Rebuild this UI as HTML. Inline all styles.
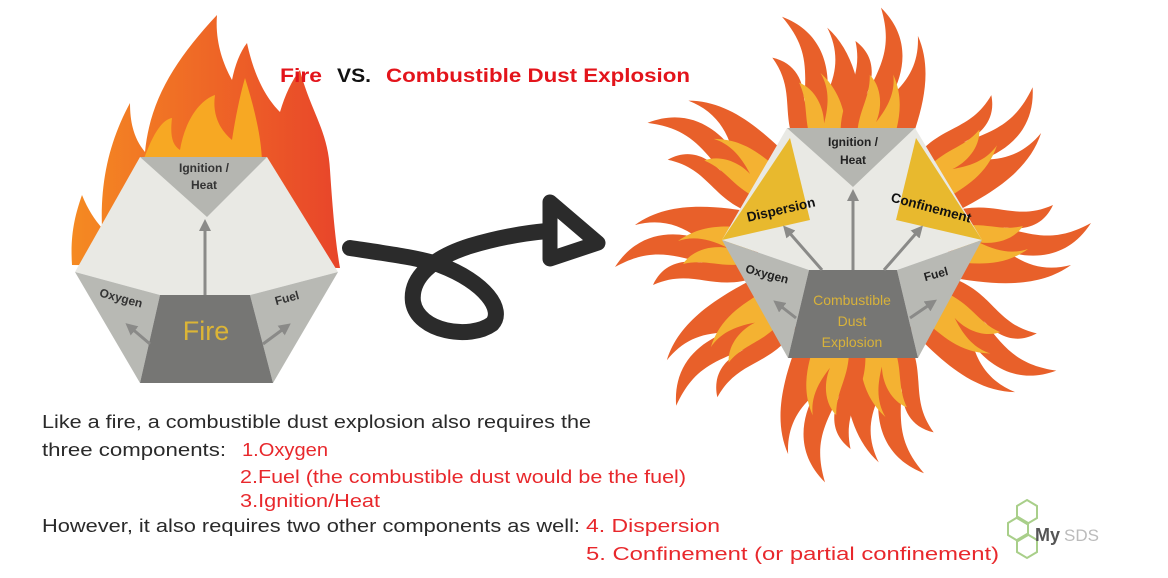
<!DOCTYPE html>
<html><head><meta charset="utf-8"><style>
body{margin:0;background:#fff;width:1168px;height:578px;overflow:hidden;font-family:"Liberation Sans",sans-serif}
</style></head><body>
<svg width="1168" height="578" style="position:absolute;left:0;top:0" font-family="Liberation Sans, sans-serif">
<defs>
<linearGradient id="fg" x1="0" y1="0" x2="1" y2="0"><stop offset="0" stop-color="#f58a22"/><stop offset="1" stop-color="#e8452a"/></linearGradient>
<g id="arm">
<path d="M-32,-95 C-48,-140 -22,-160 -40,-200 C-18,-190 -14,-170 -18,-150 C-8,-185 -4,-205 -22,-238 C14,-215 14,-180 7,-155 C22,-175 26,-195 20,-218 C44,-185 40,-140 32,-95 Z" fill="#e8602a"/>
<path d="M-17,-100 C-25,-130 -13,-145 -19,-170 C-4,-160 0,-140 -3,-125 C7,-145 9,-160 4,-175 C22,-150 19,-125 17,-100 Z" fill="#f4b232"/>
</g>
<marker id="ah" markerWidth="4" markerHeight="4" refX="2" refY="2" orient="auto" markerUnits="strokeWidth"><path d="M0,0 L4,2 L0,4 Z" fill="#8a8a88"/></marker>
</defs>
<!-- left flame -->
<path d="M72,265 C70,235 75,215 82,195 C88,210 95,220 102,228 C100,180 110,140 130,103 C130,125 135,140 145,152 C150,100 175,60 217,15 C215,40 222,62 232,80 C235,65 240,52 247,43 C255,80 268,100 280,112 C285,95 292,80 300,70 C310,110 328,130 330,170 C332,200 335,240 340,268 Z" fill="url(#fg)"/>
<path d="M140,170 C150,140 160,120 172,118 C170,135 172,145 180,150 C185,120 200,100 215,95 C212,115 220,130 232,140 C235,120 240,95 245,78 C255,110 262,140 262,165 Z" fill="#f7a823"/>
<!-- left diagram -->
<polygon points="140,157 267,157 338,272 250,295 160,295 75,272" fill="#e9e9e4"/>
<polygon points="140,157 267,157 207,217" fill="#b5b6b1"/>
<polygon points="75,272 160,295 140,383" fill="#b8b9b4"/>
<polygon points="338,272 250,295 273,383" fill="#b8b9b4"/>
<polygon points="160,295 250,295 273,383 140,383" fill="#767674"/>
<line x1="205" y1="295" x2="205" y2="225" stroke="#8a8a88" stroke-width="3" marker-end="url(#ah)"/>
<line x1="150" y1="344" x2="130" y2="327" stroke="#8a8a88" stroke-width="3" marker-end="url(#ah)"/>
<line x1="263" y1="344" x2="286" y2="327" stroke="#8a8a88" stroke-width="3" marker-end="url(#ah)"/>
<text x="204" y="172" font-size="12" font-weight="bold" text-anchor="middle" fill="#333">Ignition /</text>
<text x="204" y="189" font-size="12" font-weight="bold" text-anchor="middle" fill="#333">Heat</text>
<text x="120" y="302" font-size="12" font-weight="bold" text-anchor="middle" fill="#333" transform="rotate(15 120 302)">Oxygen</text>
<text x="288" y="302" font-size="12" font-weight="bold" text-anchor="middle" fill="#333" transform="rotate(-15 288 302)">Fuel</text>
<text x="206" y="340" font-size="27" text-anchor="middle" fill="#dcb536">Fire</text>
<!-- swirl arrow -->
<path d="M350,248 C390,254 420,258 440,265 C485,282 505,310 492,324 C470,340 418,332 413,302 C410,278 432,258 470,246 C500,237 525,233 547,231" fill="none" stroke="#2b2b2b" stroke-width="16" stroke-linecap="round"/>
<polygon points="550,202 550,259 598,243" fill="none" stroke="#2b2b2b" stroke-width="15" stroke-linejoin="round"/>
<!-- starburst -->
<g transform="translate(853,245)">
<use href="#arm" transform="rotate(-12)"/><use href="#arm" transform="rotate(12)"/>
<use href="#arm" transform="rotate(54)"/><use href="#arm" transform="rotate(90)"/>
<use href="#arm" transform="rotate(127)"/><use href="#arm" transform="rotate(168)"/>
<use href="#arm" transform="rotate(192)"/><use href="#arm" transform="rotate(233)"/>
<use href="#arm" transform="rotate(270)"/><use href="#arm" transform="rotate(306)"/>
</g>
<!-- right diagram -->
<polygon points="787,128 915,128 982,240 897,270 809,270 722,240" fill="#e9e9e4"/>
<polygon points="787,128 915,128 853,187" fill="#b5b6b1"/>
<polygon points="790,138 810,220 722,240" fill="#e8b92e"/>
<polygon points="916,138 896,220 982,240" fill="#e8b92e"/>
<polygon points="722,240 809,270 788,358" fill="#b8b9b4"/>
<polygon points="982,240 897,270 918,358" fill="#b8b9b4"/>
<polygon points="809,270 897,270 918,358 788,358" fill="#767674"/>
<line x1="853" y1="270" x2="853" y2="195" stroke="#8a8a88" stroke-width="3" marker-end="url(#ah)"/>
<line x1="822" y1="270" x2="787" y2="230" stroke="#8a8a88" stroke-width="3" marker-end="url(#ah)"/>
<line x1="884" y1="270" x2="919" y2="230" stroke="#8a8a88" stroke-width="3" marker-end="url(#ah)"/>
<line x1="796" y1="318" x2="778" y2="304" stroke="#8a8a88" stroke-width="3" marker-end="url(#ah)"/>
<line x1="910" y1="318" x2="932" y2="303" stroke="#8a8a88" stroke-width="3" marker-end="url(#ah)"/>
<text x="853" y="146" font-size="12" font-weight="bold" text-anchor="middle" fill="#222">Ignition /</text>
<text x="853" y="164" font-size="12" font-weight="bold" text-anchor="middle" fill="#222">Heat</text>
<text x="782" y="214" font-size="13.5" font-weight="bold" text-anchor="middle" fill="#111" transform="rotate(-13 782 214)">Dispersion</text>
<text x="930" y="212" font-size="13.5" font-weight="bold" text-anchor="middle" fill="#111" transform="rotate(15 930 212)">Confinement</text>
<text x="766" y="278" font-size="12" font-weight="bold" text-anchor="middle" fill="#222" transform="rotate(15 766 278)">Oxygen</text>
<text x="937" y="278" font-size="12" font-weight="bold" text-anchor="middle" fill="#222" transform="rotate(-15 937 278)">Fuel</text>
<text x="852" y="305" font-size="14" text-anchor="middle" fill="#d8b23a">Combustible</text>
<text x="852" y="326" font-size="14" text-anchor="middle" fill="#d8b23a">Dust</text>
<text x="852" y="347" font-size="14" text-anchor="middle" fill="#d8b23a">Explosion</text>
<!-- title -->
<text x="280" y="82" font-size="19" font-weight="bold" fill="#e3141b" textLength="42" lengthAdjust="spacingAndGlyphs">Fire</text>
<text x="337" y="82" font-size="19" font-weight="bold" fill="#111" textLength="34" lengthAdjust="spacingAndGlyphs">VS.</text>
<text x="386" y="82" font-size="19" font-weight="bold" fill="#e3141b" textLength="304" lengthAdjust="spacingAndGlyphs">Combustible Dust Explosion</text>
<!-- body text -->
<g font-size="18" fill="#2a2a2a">
<text x="42" y="428" textLength="549" lengthAdjust="spacingAndGlyphs">Like a fire, a combustible dust explosion also requires the</text>
<text x="42" y="456" textLength="184" lengthAdjust="spacingAndGlyphs">three components:</text>
<text x="42" y="532" textLength="538" lengthAdjust="spacingAndGlyphs">However, it also requires two other components as well:</text>
</g>
<g font-size="18" fill="#e8282c">
<text x="242" y="456" textLength="86" lengthAdjust="spacingAndGlyphs">1.Oxygen</text>
<text x="240" y="483" textLength="446" lengthAdjust="spacingAndGlyphs">2.Fuel (the combustible dust would be the fuel)</text>
<text x="240" y="507" textLength="140" lengthAdjust="spacingAndGlyphs">3.Ignition/Heat</text>
<text x="586" y="532" textLength="134" lengthAdjust="spacingAndGlyphs">4. Dispersion</text>
<text x="586" y="560" textLength="413" lengthAdjust="spacingAndGlyphs">5. Confinement (or partial confinement)</text>
</g>
<!-- logo -->
<g fill="none" stroke="#a9cf8a" stroke-width="2">
<polygon points="1027,500 1037,506 1037,518 1027,524 1017,518 1017,506"/>
<polygon points="1018,517 1028,523 1028,535 1018,541 1008,535 1008,523"/>
<polygon points="1027,534 1037,540 1037,552 1027,558 1017,552 1017,540"/>
</g>
<text x="1035" y="541" font-size="18" font-weight="bold" fill="#555">My</text>
<text x="1064" y="541" font-size="17" fill="#bbb">SDS</text>
</svg>
</body></html>
